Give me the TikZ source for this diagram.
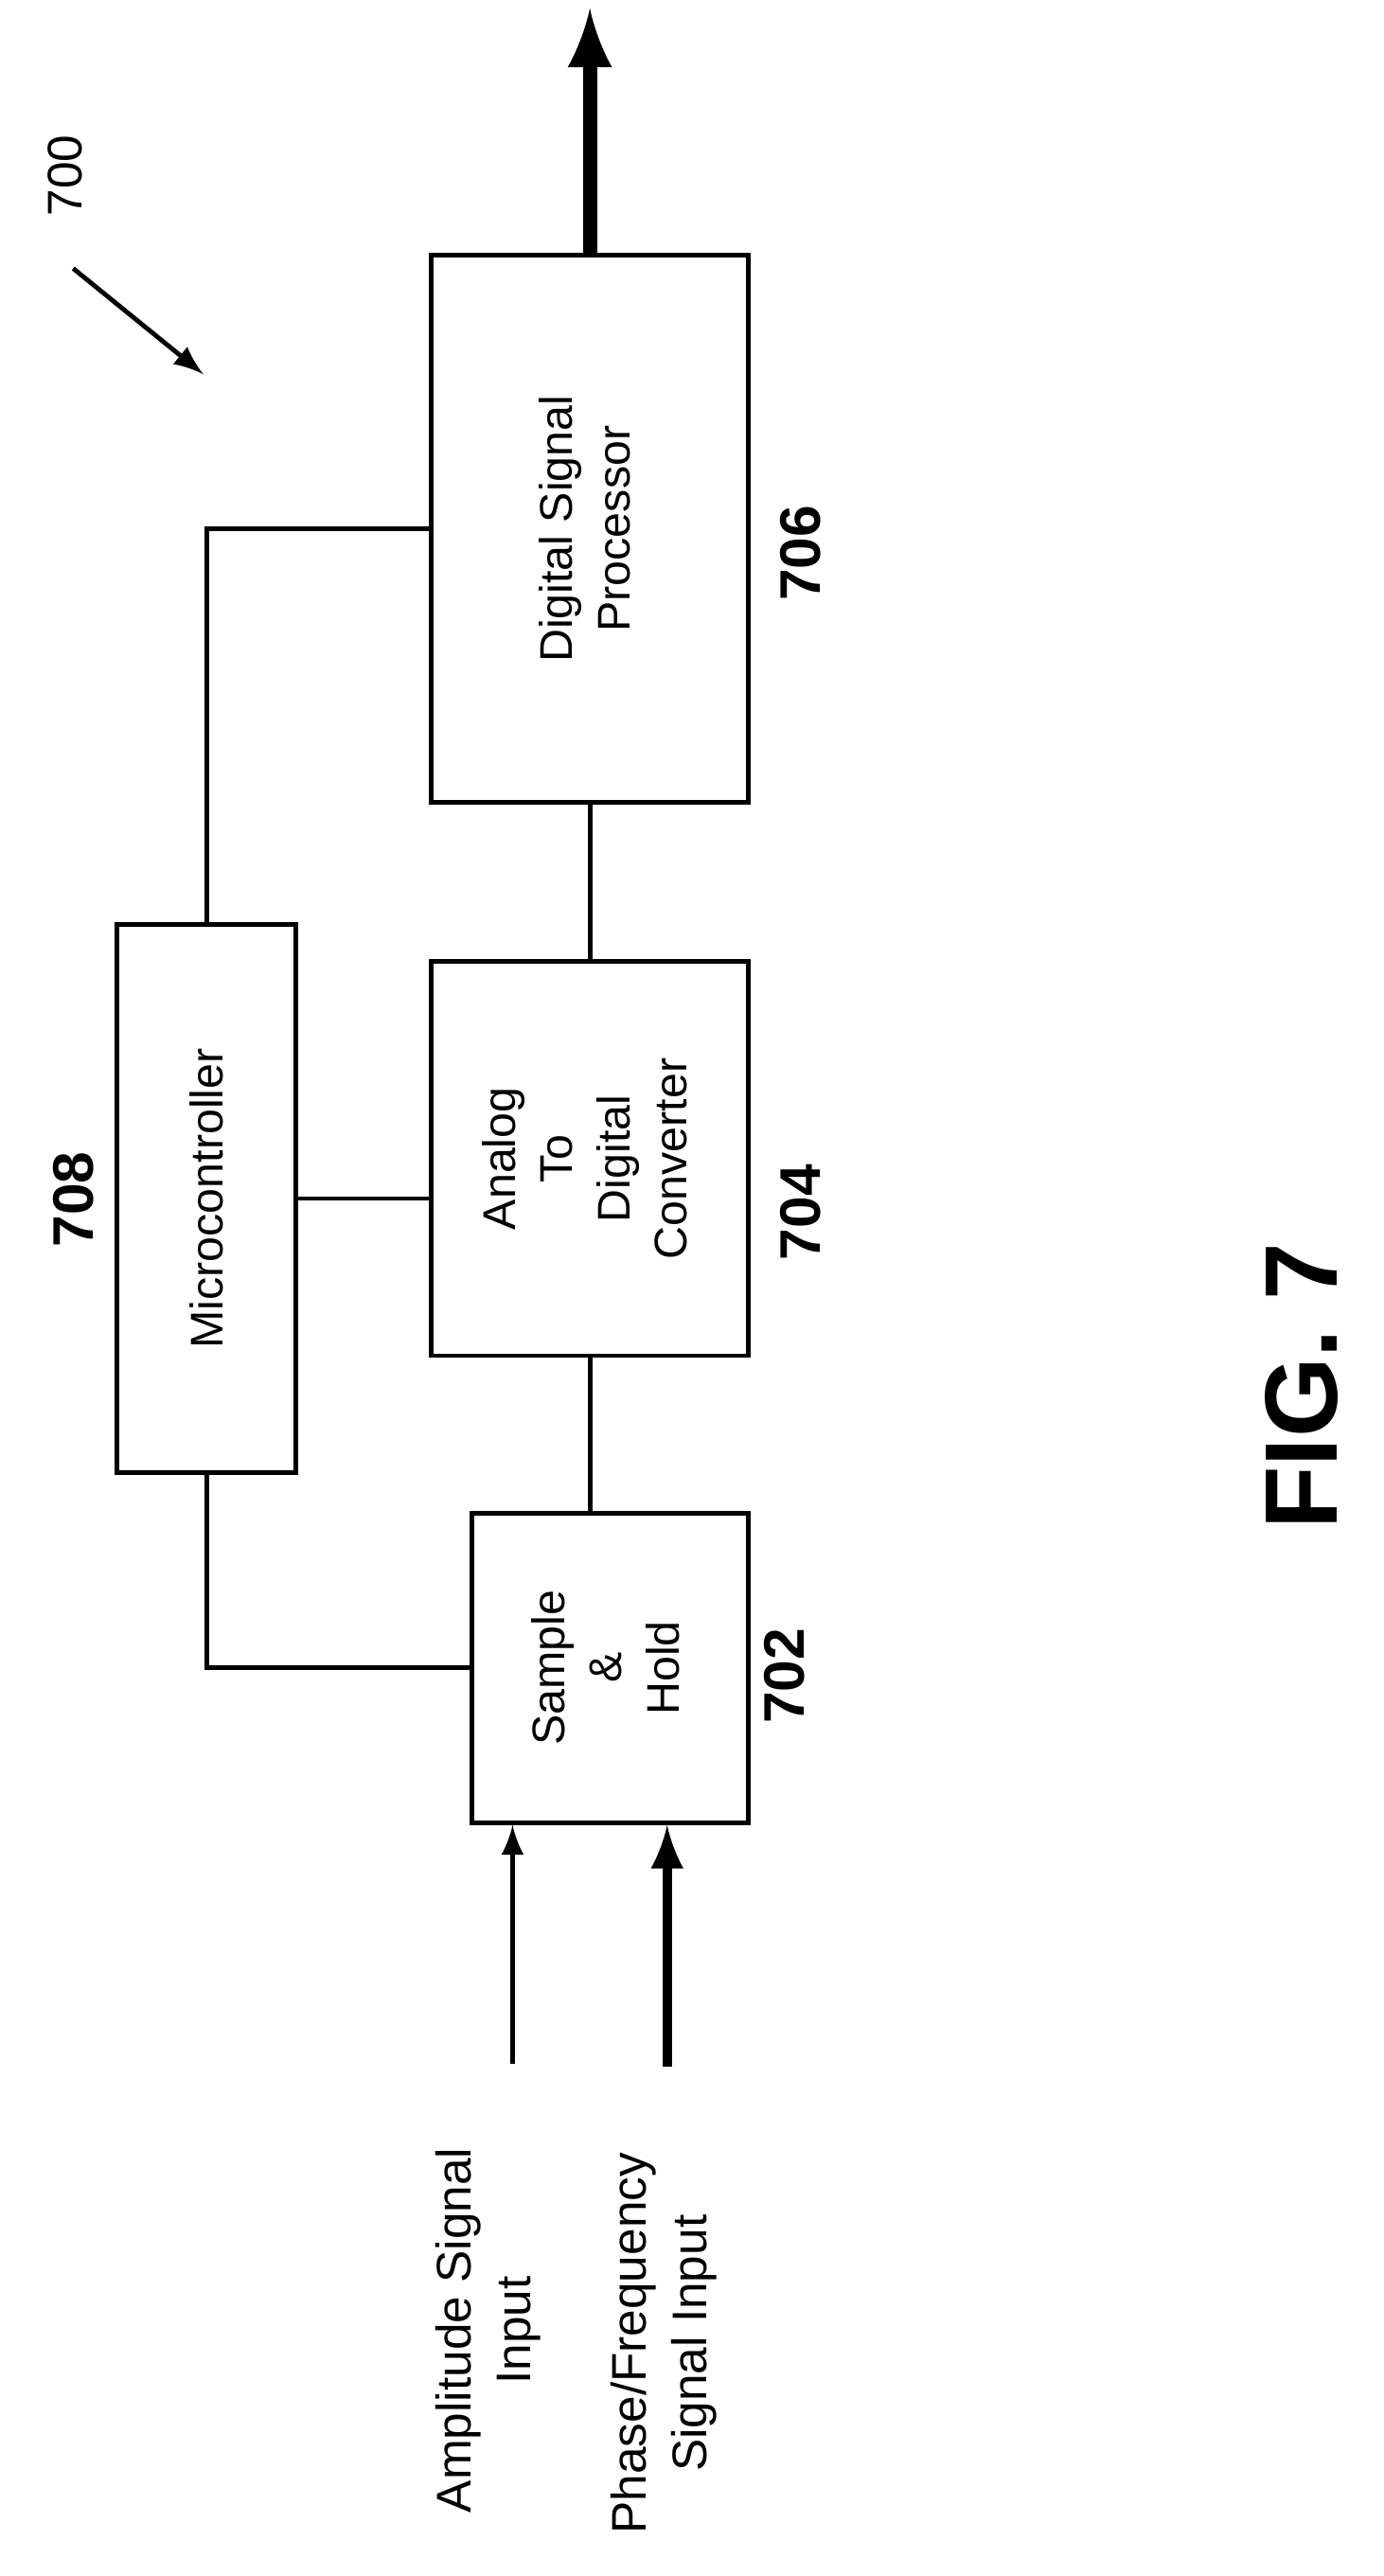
\documentclass[tikz,border=0pt]{standalone}
\usepackage{fontspec}
\setmainfont{Liberation Sans}
\usepackage{tikz}
\usetikzlibrary{arrows,positioning}

\begin{document}
\begin{tikzpicture}[
    x=0.01cm, y=-0.01cm,
    block/.style={rectangle, draw, line width=0.8pt, align=center, font=\fontsize{8}{10}\selectfont},
    ref/.style={font=\bfseries\fontsize{10}{12}\selectfont, rotate=90},
    lbl/.style={font=\fontsize{8.5}{10.5}\selectfont, rotate=90, align=center},
    link/.style={line width=0.8pt},
    arrow/.style={-latex, line width=0.8pt}
]
\useasboundingbox (0,0) rectangle (850,1583);

% Blocks
\node[block, minimum width=1.95cm, minimum height=3.36cm] (dsp) at (362.5,325) {\rotatebox{90}{\begin{tabular}{c}Digital Signal\\Processor\end{tabular}}};
\node[block, minimum width=1.95cm, minimum height=2.42cm] (adc) at (362.5,712) {\rotatebox{90}{\begin{tabular}{c}Analog\\To\\Digital\\Converter\end{tabular}}};
\node[block, minimum width=1.70cm, minimum height=1.90cm] (sh) at (375,1025) {\rotatebox{90}{\begin{tabular}{c}Sample\\\&\\Hold\end{tabular}}};
\node[block, minimum width=1.10cm, minimum height=3.37cm] (mc) at (127,736.5) {\rotatebox{90}{Microcontroller}};

% Reference numbers
\node[ref] at (492,340) {706};
\node[ref] at (492,745) {704};
\node[ref] at (482,1030) {702};
\node[ref] at (45,737) {708};
\node[lbl] (num) at (40,108) {700};
\node[font=\bfseries\fontsize{18}{20}\selectfont, rotate=90] at (800,852) {FIG. 7};

% Input labels
\node[lbl] (amp) at (300,1432) {Amplitude Signal\\Input};
\node[lbl] (phase) at (408,1440) {Phase/Frequency\\Signal Input};

\coordinate (out) at (362.5,5);
\coordinate (in1) at (315,1268);
\coordinate (in2) at (410,1270);
\coordinate (ptail) at (45,165);
\coordinate (phead) at (125,230);

% Connections
\draw[link] (mc.north) |- (dsp.west);
\draw[link] (mc.east) -- (mc.east -| adc.west);
\draw[link] (mc.south) |- (sh.west);
\draw[link] (dsp.south) -- (adc.north);
\draw[link] (adc.south) -- (adc.south |- sh.north);
\draw[-latex, line width=2.5pt] (dsp.north) -- (out);
\draw[arrow] (in1) -- (in1 |- sh.south);
\draw[-latex, line width=1.6pt] (in2) -- (in2 |- sh.south);
\draw[arrow] (ptail) -- (phead);
\end{tikzpicture}
\end{document}
